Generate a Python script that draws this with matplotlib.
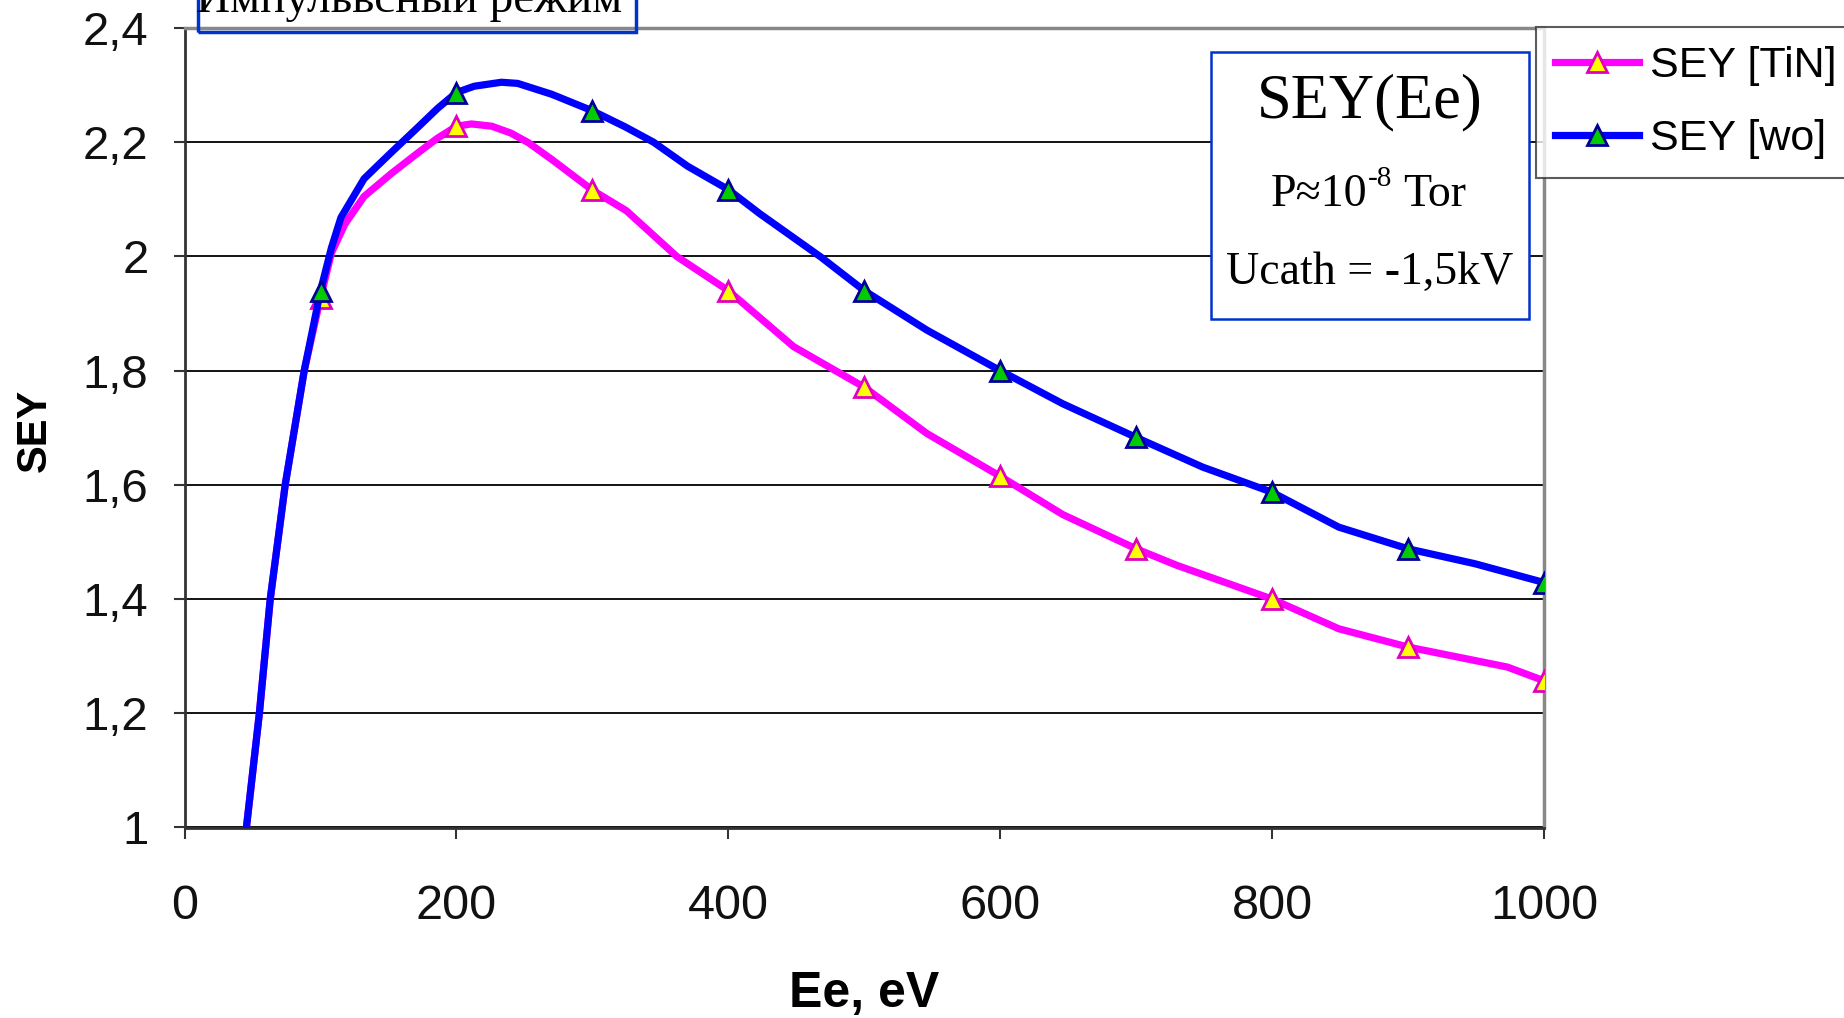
import matplotlib
matplotlib.use("Agg")
import matplotlib.pyplot as plt
from matplotlib.patches import Rectangle
from matplotlib.ticker import FuncFormatter
import numpy as np

# (smoothed curve traced, markers every 100 eV)
ee_wo = [45, 55, 63, 74, 88, 100, 108, 115, 132, 152, 172, 186, 200, 213, 233, 245,
         270, 300, 324, 345, 370, 400, 423, 468, 500, 546, 600, 646, 700, 749,
         800, 849, 900, 949, 1000]
sey_wo = [0.99, 1.20, 1.40, 1.60, 1.80, 1.940, 2.015, 2.068, 2.136, 2.182, 2.227,
          2.259, 2.287, 2.298, 2.305, 2.303, 2.284, 2.255, 2.227, 2.200, 2.158,
          2.117, 2.075, 1.999, 1.940, 1.871, 1.800, 1.742, 1.683, 1.631, 1.587,
          1.526, 1.488, 1.462, 1.429]

ee_tin = [45, 55, 63, 74, 88, 100, 108, 118, 132, 152, 172, 186, 200, 211, 226, 240,
          253, 270, 300, 325, 362, 400, 448, 500, 546, 600, 646, 700, 730, 800,
          849, 900, 973, 1000]
sey_tin = [0.99, 1.20, 1.40, 1.60, 1.80, 1.928, 2.006, 2.057, 2.105, 2.145, 2.182,
           2.207, 2.228, 2.232, 2.228, 2.216, 2.199, 2.170, 2.116, 2.080, 2.000,
           1.940, 1.842, 1.771, 1.690, 1.615, 1.548, 1.488, 1.459, 1.400, 1.348,
           1.316, 1.281, 1.257]

marked = [100, 200, 300, 400, 500, 600, 700, 800, 900, 1000]

W, H = 1844, 1018
fig = plt.figure(figsize=(W / 100, H / 100), dpi=100)
ax = fig.add_axes([184.6 / W, 1 - 827.5 / H, (1544 - 184.6) / W, (827.5 - 28) / H])

def marks(xs):
    return [i for i, x in enumerate(xs) if x in marked]

ax.plot(ee_tin, sey_tin, color="#FF00FF", lw=5.2, marker="^", markevery=marks(ee_tin),
        ms=14, mfc="#FFFF00", mec="#E000C0", mew=2, label="SEY [TiN]", zorder=3,
        solid_joinstyle="round")
ax.plot(ee_wo, sey_wo, color="#0000FF", lw=5.2, marker="^", markevery=marks(ee_wo),
        ms=14, mfc="#00CC00", mec="#000099", mew=2, label="SEY [wo]", zorder=4,
        solid_joinstyle="round")

ax.set_xlim(0, 1000)
ax.set_ylim(1, 2.4)
ax.set_xticks([0, 200, 400, 600, 800, 1000])
ax.set_yticks(np.arange(1.0, 2.41, 0.2))
ax.yaxis.set_major_formatter(FuncFormatter(lambda v, p: f"{v:g}".replace(".", ",")))
ax.grid(axis="y", color="black", lw=1.3)
ax.set_axisbelow(True)

for s in ["left", "bottom"]:
    ax.spines[s].set_color("#333333")
    ax.spines[s].set_linewidth(2)
for s in ["top", "right"]:
    ax.spines[s].set_color("#888888")
    ax.spines[s].set_linewidth(2.5)

ax.tick_params(axis="both", direction="out", length=8, width=1.5, color="#333333",
               labelsize=34, labelcolor="#111111")
ax.tick_params(axis="y", pad=18)
ax.tick_params(axis="x", pad=33, labelsize=35)
for lab in ax.get_xticklabels() + ax.get_yticklabels():
    lab.set_family("Liberation Sans")

fig.text(35 / W, 1 - 430 / H, "SEY", rotation=90, ha="center", va="center",
         fontsize=30, fontweight="bold", family="Liberation Sans")
fig.text(864 / W, 1 - 994 / H, "Ee, eV", ha="center", va="center",
         fontsize=36, fontweight="bold", family="Liberation Sans")

leg = ax.legend(loc="upper left", bbox_to_anchor=(1536 / W, 1 - 27 / H),
                bbox_transform=fig.transFigure, borderaxespad=0, fancybox=False,
                prop={"family": "Liberation Sans", "size": 31}, handlelength=1.95,
                handletextpad=0.25, borderpad=0.45, labelspacing=0.75)
leg.get_frame().set_edgecolor("#333333")
leg.get_frame().set_linewidth(1.5)

# title box, cut by the top edge
fig.add_artist(Rectangle((198 / W, 1 - 32 / H), (636 - 198) / W, 40 / H,
                         transform=fig.transFigure, fill=False, ec="#0033CC", lw=2.5))
fig.text(409 / W, 1 - 12 / H, "Импульвсный режим", ha="center", va="baseline",
         fontsize=34, family="Liberation Serif")

# annotation box
fig.add_artist(Rectangle((1211 / W, 1 - 319 / H), (1529 - 1211) / W, (319 - 52) / H,
                         transform=fig.transFigure, fc="white", ec="#0033CC", lw=1.8,
                         zorder=5))
cx = 1370 / W
fig.text(cx, 1 - 102 / H, "SEY(Ee)", ha="center", va="center", fontsize=45,
         family="Liberation Serif", zorder=6)
fig.text(1367 / W, 1 - 206 / H, "P≈10", ha="right", va="baseline", fontsize=33,
         family="Liberation Serif", zorder=6)
fig.text(1368 / W, 1 - 186 / H, "-8", ha="left", va="baseline", fontsize=21,
         family="Liberation Serif", zorder=6)
fig.text(1403 / W, 1 - 206 / H, "Tor", ha="left", va="baseline", fontsize=33,
         family="Liberation Serif", zorder=6)
fig.text(cx, 1 - 273 / H, "Ucath = -1,5kV", ha="center", va="center", fontsize=33,
         family="Liberation Serif", zorder=6)

fig.savefig("out.png", dpi=100, facecolor="white")
